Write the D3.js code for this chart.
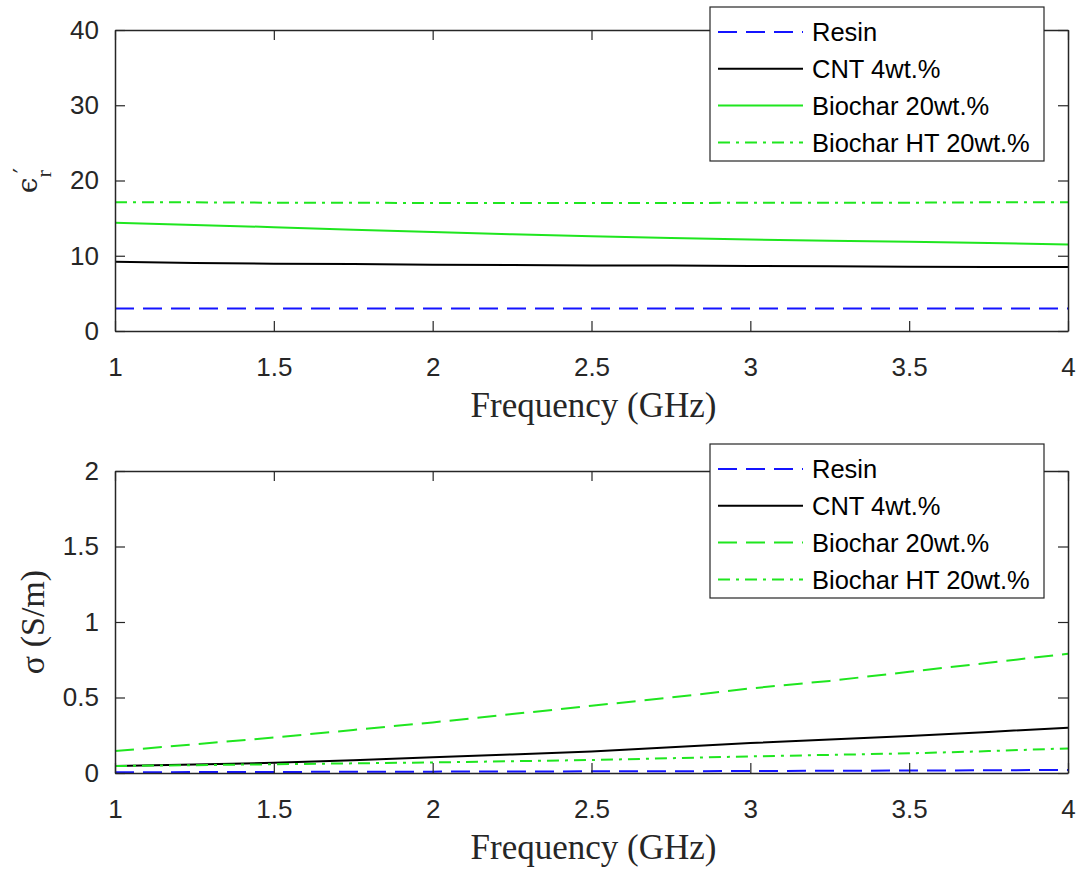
<!DOCTYPE html>
<html>
<head>
<meta charset="utf-8">
<script src="https://cdn.jsdelivr.net/npm/d3@7"></script>
<style>
  html, body { margin: 0; padding: 0; background: #fff; }
  svg { display: block; }
  .tick text { font-family: "Liberation Sans", Arial, sans-serif; font-size: 26px; fill: #262626; }
  .tick line { stroke: #262626; stroke-width: 1.2; }
  .domain { stroke: #262626; stroke-width: 1.5; }
</style>
</head>
<body>
<svg id="chart" width="1078" height="869"></svg>
<script>
// ---------- data ----------
const freq = [1, 1.25, 1.5, 1.75, 2, 2.25, 2.5, 2.75, 3, 3.25, 3.5, 3.75, 4];
const seriesNames = ["Resin", "CNT 4wt.%", "Biochar 20wt.%", "Biochar HT 20wt.%"];

const epsResin = [3.0, 3.0, 3.0, 3.0, 3.0, 3.0, 3.0, 3.0, 3.0, 3.0, 3.0, 3.0, 3.0];
const epsCNT   = [9.2, 9.05, 8.95, 8.9, 8.8, 8.78, 8.72, 8.7, 8.65, 8.6, 8.55, 8.52, 8.5];
const epsBio   = [14.4, 14.1, 13.8, 13.45, 13.15, 12.85, 12.6, 12.35, 12.15, 12.0, 11.85, 11.7, 11.5];
const epsBioHT = [17.1, 17.1, 17.05, 17.05, 17.0, 17.0, 17.0, 17.0, 17.05, 17.05, 17.05, 17.1, 17.1];

const sigResin = [0.005, 0.006, 0.007, 0.008, 0.009, 0.01, 0.011, 0.012, 0.013, 0.015, 0.016, 0.018, 0.02];
const sigCNT   = [0.046, 0.056, 0.068, 0.085, 0.105, 0.123, 0.142, 0.17, 0.198, 0.222, 0.245, 0.272, 0.30];
const sigBio   = [0.145, 0.19, 0.235, 0.285, 0.335, 0.39, 0.445, 0.50, 0.56, 0.61, 0.67, 0.73, 0.79];
const sigBioHT = [0.046, 0.052, 0.058, 0.064, 0.07, 0.078, 0.086, 0.098, 0.11, 0.12, 0.13, 0.145, 0.163];

const xTicks = [1, 1.5, 2, 2.5, 3, 3.5, 4];
const epsTicks = [0, 10, 20, 30, 40];
const sigTicks = [0, 0.5, 1, 1.5, 2];

// ---------- styles ----------
const BLUE = "#1414ff", BLACK = "#000000", GREEN = "#1fe61f";
const DASH = "19,9", DASHDOT = "12,6,3,6";

const svg = d3.select("#chart");
const L = 115, R = 1068;

function panel(top, bottom, yDomain, yTicks, series, legendTop, ylabelFn) {
  const x = d3.scaleLinear().domain([1, 4]).range([L, R]);
  const y = d3.scaleLinear().domain(yDomain).range([bottom, top]);
  const g = svg.append("g");

  const line = d3.line().x((d, i) => x(freq[i])).y(d => y(d));
  series.forEach(s => {
    g.append("path").datum(s.values)
      .attr("d", line)
      .attr("fill", "none")
      .attr("stroke", s.color)
      .attr("stroke-width", 2)
      .attr("stroke-dasharray", s.dash || null);
  });

  g.append("g").attr("transform", `translate(0,${bottom})`)
    .call(d3.axisBottom(x).tickValues(xTicks).tickFormat(d => d).tickSizeInner(-10).tickSizeOuter(0).tickPadding(27));
  g.append("g").attr("transform", `translate(0,${top})`)
    .call(d3.axisTop(x).tickValues(xTicks).tickFormat("").tickSizeInner(-10).tickSizeOuter(0));
  g.append("g").attr("transform", `translate(${L},0)`)
    .call(d3.axisLeft(y).tickValues(yTicks).tickFormat(d => d).tickSizeInner(-10).tickSizeOuter(0).tickPadding(16));
  g.append("g").attr("transform", `translate(${R},0)`)
    .call(d3.axisRight(y).tickValues(yTicks).tickFormat("").tickSizeInner(-10).tickSizeOuter(0));

  g.append("text")
    .attr("x", (L + R) / 2 + 2).attr("y", bottom + 86)
    .attr("text-anchor", "middle")
    .attr("font-family", "'Liberation Serif', 'Times New Roman', serif")
    .attr("font-size", 35).attr("fill", "#262626")
    .text("Frequency (GHz)");

  ylabelFn(g, (top + bottom) / 2);

  const lx = 710, lw = 334, lh = 154;
  const lg = g.append("g");
  lg.append("rect").attr("x", lx).attr("y", legendTop).attr("width", lw).attr("height", lh)
    .attr("fill", "#fff").attr("stroke", "#262626").attr("stroke-width", 1.2);
  series.forEach((s, i) => {
    const yy = legendTop + 25 + i * 36.8;
    lg.append("line").attr("x1", 718).attr("x2", 803).attr("y1", yy).attr("y2", yy)
      .attr("stroke", s.color).attr("stroke-width", 2)
      .attr("stroke-dasharray", s.dash || null);
    lg.append("text").attr("x", 812).attr("y", yy).attr("dy", "0.36em")
      .attr("font-family", "'Liberation Sans', Arial, sans-serif")
      .attr("font-size", 25.5).attr("fill", "#000")
      .text(seriesNames[i]);
  });
}

panel(30, 331, [0, 40], epsTicks, [
  { values: epsResin, color: BLUE, dash: DASH },
  { values: epsCNT, color: BLACK },
  { values: epsBio, color: GREEN },
  { values: epsBioHT, color: GREEN, dash: DASHDOT }
], 7, (g, cy) => {
  const t = g.append("text")
    .attr("transform", `translate(37,${cy}) rotate(-90)`)
    .attr("text-anchor", "middle")
    .attr("font-family", "'DejaVu Serif', 'Liberation Serif', serif")
    .attr("fill", "#262626");
  t.append("tspan").attr("font-size", 28).text("\u03F5");
  t.append("tspan").attr("font-size", 22).attr("font-family", "'Liberation Serif', serif").attr("dy", 14).text("r");
  t.append("tspan").attr("font-size", 24).attr("dx", -3).attr("dy", -20).text("\u2032");
});

panel(471, 773, [0, 2], sigTicks, [
  { values: sigResin, color: BLUE, dash: DASH },
  { values: sigCNT, color: BLACK },
  { values: sigBio, color: GREEN, dash: DASH },
  { values: sigBioHT, color: GREEN, dash: DASHDOT }
], 444, (g, cy) => {
  g.append("text")
    .attr("transform", `translate(44,${cy}) rotate(-90)`)
    .attr("text-anchor", "middle")
    .attr("font-family", "'Liberation Serif', 'Times New Roman', serif")
    .attr("font-size", 34).attr("fill", "#262626")
    .text("\u03C3 (S/m)");
});
</script>
</body>
</html>
